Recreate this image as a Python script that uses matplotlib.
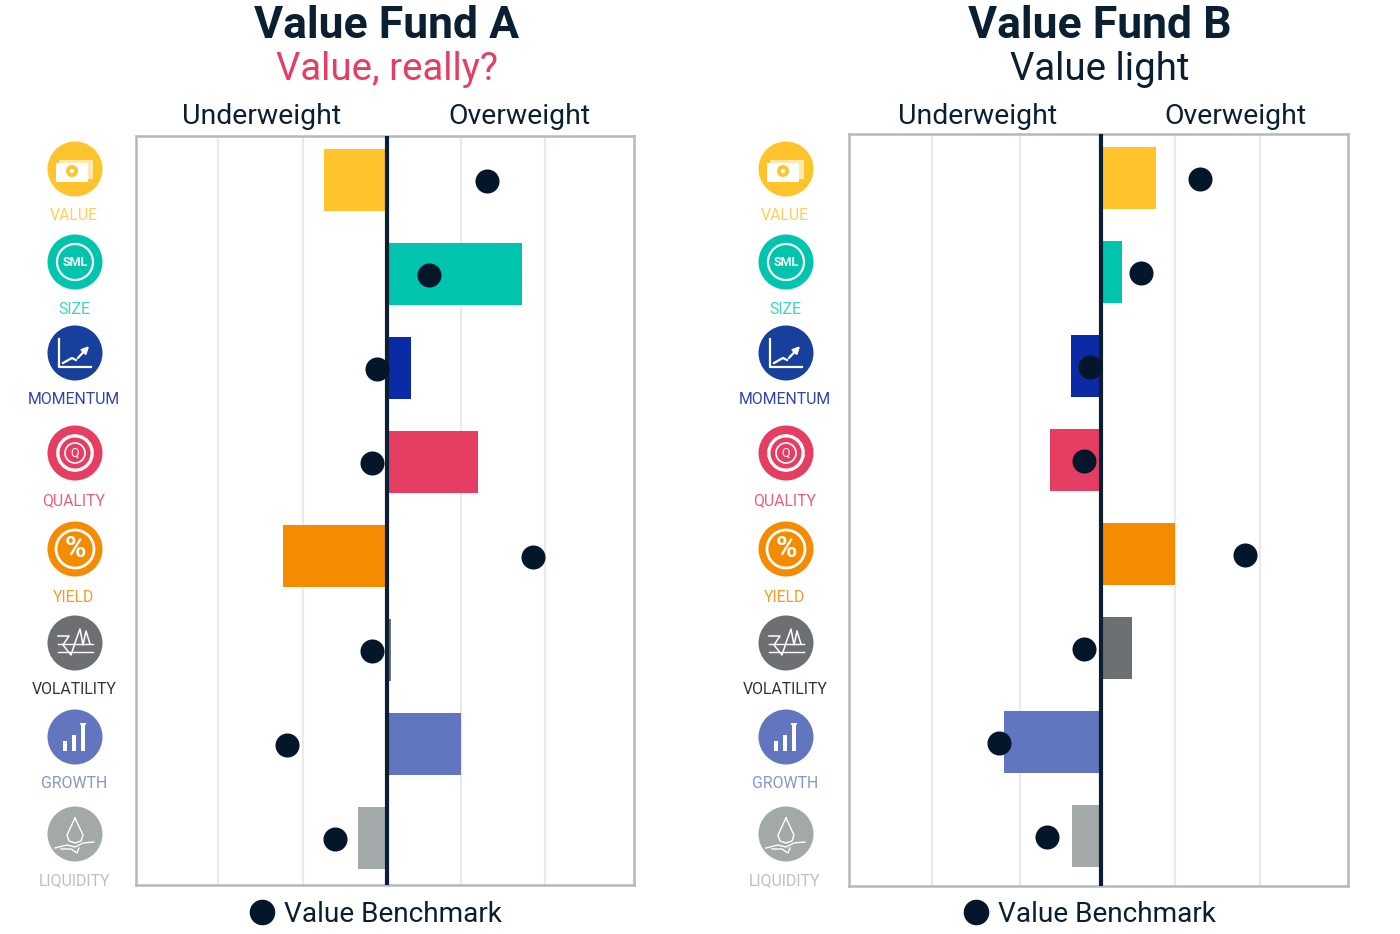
import numpy as np
import matplotlib
matplotlib.use('Agg')
import matplotlib.pyplot as plt
from matplotlib.patches import Circle, Rectangle, RegularPolygon

plt.rcParams['font.family'] = ['Roboto', 'DejaVu Sans']

W, H = 1400, 934
NAVY = '#0b1f33'
DOT = '#04172a'

factors = ['VALUE', 'SIZE', 'MOMENTUM', 'QUALITY', 'YIELD', 'VOLATILITY', 'GROWTH', 'LIQUIDITY']
colors = ['#ffc42c', '#00c4ae', '#0b2aa5', '#e63e62', '#f58b00', '#6d7073', '#6276bf', '#a3a8a9']
label_colors = ['#ffcf5c', '#3fd3c3', '#2f47ac', '#ea5f7e', '#f79a2a', '#2a3540', '#8795cd', '#bcc0c1']
icon_colors = ['#ffc42c', '#00c4ae', '#17409c', '#e63e62', '#f58b00', '#6d7073', '#6276bf', '#a3a8a9']

funds = [
    {'title': 'Value Fund A', 'sub': 'Value, really?', 'sub_color': '#e63e62', 'cx': 387,
     'box': (136, 634, 136, 885), 'first_y': 180, 'grid': [-1.69, -0.84, 0.74, 1.58],
     'bars': [-0.63, 1.35, 0.24, 0.91, -1.04, 0.04, 0.74, -0.29],
     'dots': [1.00, 0.42, -0.10, -0.15, 1.46, -0.15, -1.00, -0.52],
     'under_x': 262, 'over_x': 519, 'legend_x': 262, 'legend_y': 912},
    {'title': 'Value Fund B', 'sub': 'Value light', 'sub_color': NAVY, 'cx': 1101,
     'box': (849, 1348, 134, 886), 'first_y': 178, 'grid': [-1.69, -0.81, 0.74, 1.59],
     'bars': [0.55, 0.21, -0.30, -0.51, 0.74, 0.31, -0.97, -0.29],
     'dots': [0.99, 0.40, -0.11, -0.17, 1.44, -0.17, -1.02, -0.54],
     'under_x': 978, 'over_x': 1235, 'legend_x': 976, 'legend_y': 912},
]

fig = plt.figure(figsize=(W / 100, H / 100), dpi=100, facecolor='white')

# overlay in image pixels for titles, icons and labels
over = fig.add_axes([0, 0, 1, 1], zorder=5)
over.set_xlim(0, W)
over.set_ylim(H, 0)
over.axis('off')


def draw_icon(kind, x, y):
    lw = 1.6
    c = 'white'
    if kind == 'VALUE':
        over.add_patch(Rectangle((x - 16, y - 9), 34, 19, color='#ffe9ad', ec='none'))
        over.add_patch(Rectangle((x - 19, y - 6), 32, 19, color='white', ec='none'))
        over.add_patch(Circle((x - 3, y + 2), 6, fc='#ffc42c', ec='none'))
        over.add_patch(Circle((x - 3, y + 2), 2.2, fc='white', ec='none'))
    elif kind == 'SIZE':
        over.add_patch(Circle((x, y), 18, fc='none', ec=c, lw=lw))
        over.text(x, y, 'SML', color=c, fontsize=9, fontweight='bold', ha='center', va='center')
    elif kind == 'MOMENTUM':
        over.plot([x - 16, x - 16, x + 16], [y - 14, y + 14, y + 14], color=c, lw=lw)
        over.plot([x - 12, x - 3, x + 1], [y + 10, y + 5, y + 7], color=c, lw=lw)
        over.annotate('', xy=(x + 16, y - 9), xytext=(x + 1, y + 7),
                      arrowprops=dict(arrowstyle='-|>', color=c, lw=lw))
    elif kind == 'QUALITY':
        over.add_patch(RegularPolygon((x, y), 18, radius=19, fc='white', ec='none'))
        over.add_patch(Circle((x, y), 15.5, fc='#e63e62', ec='none'))
        over.add_patch(Circle((x, y), 10, fc='none', ec=c, lw=1.2))
        over.text(x, y, 'Q', color=c, fontsize=9, ha='center', va='center')
    elif kind == 'YIELD':
        over.add_patch(Circle((x, y), 19, fc='none', ec=c, lw=2))
        over.text(x, y, '%', color=c, fontsize=21, fontweight='bold', ha='center', va='center')
    elif kind == 'VOLATILITY':
        over.plot([x - 17, x + 18], [y + 1, y + 1], color=c, lw=1)
        over.plot([x - 17, x + 18], [y + 9, y + 9], color=c, lw=1)
        over.plot([x - 17, x - 6, x - 12, x - 4, x + 1, x + 5, x + 8, x + 11, x + 15],
                  [y - 7, y - 7, y + 2, y + 12, y - 3, y - 14, y + 2, y - 12, y + 1],
                  color=c, lw=1.1)
    elif kind == 'GROWTH':
        over.add_patch(Rectangle((x - 12, y + 4), 4, 10, color=c, ec='none'))
        over.add_patch(Rectangle((x - 3, y - 2), 4, 16, color=c, ec='none'))
        over.add_patch(Rectangle((x + 6, y - 11), 4, 25, color=c, ec='none'))
        over.add_patch(RegularPolygon((x + 8, y - 12), 3, radius=4, color=c, ec='none'))
    elif kind == 'LIQUIDITY':
        over.plot([x, x - 8, x - 6, x, x + 6, x + 8, x],
                  [y - 16, y + 1, y + 7, y + 9, y + 7, y + 1, y - 16], color=c, lw=1)
        over.plot([x - 20, x - 8, x, x + 8, x + 19], [y + 14, y + 11, y + 13, y + 9, y + 8],
                  color=c, lw=1)
        over.plot([x - 14, x - 4, x + 2, x + 4], [y + 15, y + 15, y + 19, y + 14], color=c, lw=1)


icon_ys = [169, 262, 353, 453, 549, 643, 737, 834]
label_ys = [216, 310, 400, 501, 597, 690, 784, 881]

for f, icon_x in zip(funds, [75, 786]):
    x0, x1, y0, y1 = f['box']
    ax = fig.add_axes([x0 / W, 1 - y1 / H, (x1 - x0) / W, (y1 - y0) / H], zorder=2)
    ax.set_xlim((x0 - f['cx']) / 100, (x1 - f['cx']) / 100)
    ypos = np.arange(len(factors))
    ax.set_ylim((y1 - f['first_y']) / 94, (y0 - f['first_y']) / 94)

    for g in f['grid']:
        ax.axvline(g, color='#e9eaea', lw=1.6, zorder=1)
    ax.barh(ypos, f['bars'], height=0.67, color=colors, zorder=2)
    ax.axvline(0, color=NAVY, lw=3, zorder=3)
    ax.scatter(f['dots'], ypos + 0.012, s=300, color=DOT, zorder=4, linewidths=0)

    ax.set_xticks([])
    ax.set_yticks([])
    for s in ax.spines.values():
        s.set_color('#b4b9bb')
        s.set_linewidth(1.8)

    title_x = f['cx'] if f['cx'] < 700 else 1100
    over.text(title_x, 26, f['title'], color=NAVY, fontsize=32, fontweight='bold', ha='center', va='center')
    over.text(title_x, 69, f['sub'], color=f['sub_color'], fontsize=27.6, ha='center', va='center')
    over.text(f['under_x'], 116, 'Underweight', color=NAVY, fontsize=20.4, ha='center', va='center')
    over.text(f['over_x'], 116, 'Overweight', color=NAVY, fontsize=20.4, ha='center', va='center')

    over.scatter([f['legend_x']], [f['legend_y']], s=340, color=DOT, linewidths=0)
    over.text(f['legend_x'] + 22, f['legend_y'] + 3, 'Value Benchmark', color=NAVY, fontsize=20.2,
              ha='left', va='center')

    for name, ic, lc, iy, ly in zip(factors, icon_colors, label_colors, icon_ys, label_ys):
        over.add_patch(Circle((icon_x, iy), 27.5, fc=ic, ec='none'))
        draw_icon(name, icon_x, iy)
        over.text(icon_x - 1, ly, name, color=lc, fontsize=11.4, ha='center', va='center')

fig.savefig('out.png', dpi=100)
